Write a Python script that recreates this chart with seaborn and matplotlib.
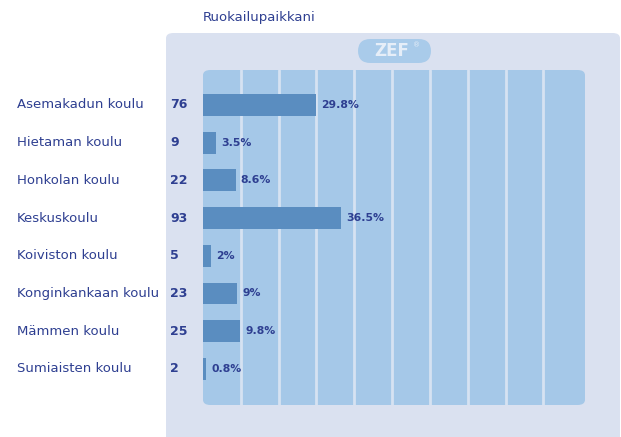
import pandas as pd
import seaborn as sns
import matplotlib.pyplot as plt
from matplotlib.patches import FancyBboxPatch

# data
schools = ['Asemakadun koulu', 'Hietaman koulu', 'Honkolan koulu', 'Keskuskoulu',
           'Koiviston koulu', 'Konginkankaan koulu', 'Mämmen koulu', 'Sumiaisten koulu']
counts = [76, 9, 22, 93, 5, 23, 25, 2]
pcts = [29.8, 3.5, 8.6, 36.5, 2, 9, 9.8, 0.8]
pct_labels = ['29.8%', '3.5%', '8.6%', '36.5%', '2%', '9%', '9.8%', '0.8%']
title = 'Ruokailupaikkani'

df = pd.DataFrame({'school': schools, 'count': counts, 'pct': pcts})

W, H = 621, 437
sns.set_theme(style='white')
plt.rcParams['font.family'] = ['DejaVu Sans']

fig = plt.figure(figsize=(W / 100, H / 100), dpi=100)
fig.patch.set_facecolor('white')

txt_col = '#2E3F91'
panel_col = '#DAE1F0'
inner_col = '#A5C8E8'
bar_col = '#5A8DC0'
grid_col = '#D6E2F2'


def fx(px):
    return px / W


def fy(py):
    return 1 - py / H


# outer panel
fig.patches.append(FancyBboxPatch((fx(166), fy(450)), fx(620) - fx(166), fy(33) - fy(450),
                                  boxstyle='round,pad=0,rounding_size=0.012',
                                  transform=fig.transFigure, facecolor=panel_col,
                                  edgecolor='none', zorder=0))
# inner plot area
fig.patches.append(FancyBboxPatch((fx(203), fy(405)), fx(585) - fx(203), fy(70) - fy(405),
                                  boxstyle='round,pad=0,rounding_size=0.012',
                                  transform=fig.transFigure, facecolor=inner_col,
                                  edgecolor='none', zorder=0))
# ZEF logo pill
fig.patches.append(FancyBboxPatch((fx(358), fy(63)), fx(431) - fx(358), fy(39) - fy(63),
                                  boxstyle='round,pad=0,rounding_size=0.02',
                                  transform=fig.transFigure, facecolor='#A9CBEA',
                                  edgecolor='none', zorder=0, mutation_aspect=1.4))
fig.text(fx(392), fy(51), 'ZEF', color='#E6EEF8', fontsize=12, fontweight='bold',
         ha='center', va='center')
fig.text(fx(417), fy(45), '®', color='#E6EEF8', fontsize=5, ha='center', va='center')

fig.text(fx(203), fy(17), title, color=txt_col, fontsize=9.5, ha='left', va='center')

ax = fig.add_axes([fx(203), fy(405), fx(585) - fx(203), fy(70) - fy(405)])
ax.set_zorder(3)
ax.set_facecolor('none')
for x in range(10, 100, 10):
    ax.axvline(x, color=grid_col, lw=2, zorder=0)

sns.barplot(data=df, x='pct', y='school', orient='h', color=bar_col, width=0.58,
            saturation=1, linewidth=0, edgecolor='none', ax=ax, zorder=2)

ax.set_xlim(0, 101)
ax.set_ylim(7.96, -0.93)
ax.set_xticks([])
ax.set_yticks([])
ax.set_xlabel('')
ax.set_ylabel('')
for s in ax.spines.values():
    s.set_visible(False)

for i, (name, c, p, lab) in enumerate(zip(schools, counts, pcts, pct_labels)):
    ax.text(p + 1.4, i, lab, color=txt_col, fontsize=7.8, fontweight='bold',
            ha='left', va='center')
    ypx = 105 + 37.7 * i
    fig.text(fx(17), fy(ypx), name, color=txt_col, fontsize=9.5, ha='left', va='center')
    fig.text(fx(170), fy(ypx), str(c), color=txt_col, fontsize=9, fontweight='bold',
             ha='left', va='center')

fig.savefig('out.png', dpi=100)
